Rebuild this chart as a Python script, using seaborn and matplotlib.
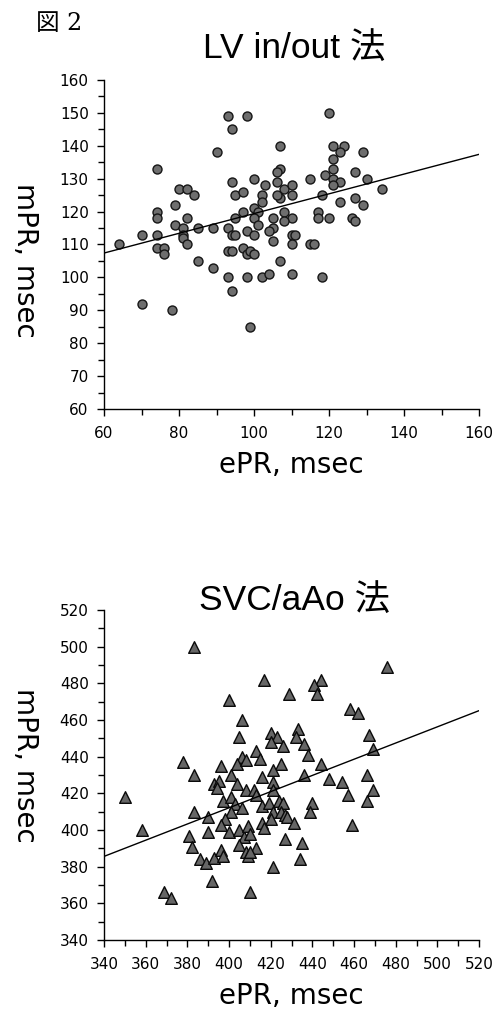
import matplotlib
matplotlib.use("Agg")
import matplotlib.pyplot as plt
from matplotlib.ticker import MultipleLocator
import seaborn as sns
import pandas as pd

# ---------------- data ----------------
top_epr = [93, 98, 94, 90, 74, 94, 80, 82, 84, 95, 97, 79, 74, 74, 97, 95, 82, 79, 81, 85,
           89, 93, 94, 95, 98, 81, 81, 82, 70, 74, 64, 74, 76, 76, 93, 94, 97, 98, 85, 89,
           93, 98, 94, 70, 78, 99,
           120, 107, 121, 124, 123, 129, 121, 107, 106, 121, 100, 106, 103, 115, 119, 121, 123, 121, 127, 130,
           108, 110, 107, 106, 110, 102, 102, 118, 134, 127, 129, 123, 108, 100, 101, 100, 101, 105, 110, 108,
           117, 117, 120, 126, 127, 100, 105, 104, 105, 110, 111, 110, 115, 116, 99, 100, 107, 102, 104, 110, 118]
top_mpr = [149, 149, 145, 138, 133, 129, 127, 127, 125, 125, 126, 122, 120, 118, 120, 118, 118, 116, 115, 115,
           115, 115, 113, 113, 114, 113, 112, 110, 113, 113, 110, 109, 109, 107, 108, 108, 109, 107, 105, 103,
           100, 100, 96, 92, 90, 85,
           150, 140, 140, 140, 138, 138, 136, 133, 132, 133, 130, 129, 128, 130, 131, 130, 129, 128, 132, 130,
           127, 128, 124, 125, 125, 125, 123, 125, 127, 124, 122, 123, 120, 121, 120, 118, 116, 118, 118, 117,
           120, 118, 118, 118, 117, 113, 115, 114, 111, 113, 113, 110, 110, 110, 108, 107, 105, 100, 101, 101, 100]

bot_epr = [383, 400, 406, 405, 406, 404, 378, 383, 396, 401, 393, 395, 394, 404, 408, 350, 397, 401, 403, 406,
           401, 383, 390, 398, 396, 358, 381, 382, 390, 400, 405, 407, 405, 386, 389, 393, 396, 397, 408, 409,
           392, 369, 372, 410,
           476, 417, 444, 441, 442, 429, 458, 462, 433, 432, 420, 423, 420, 426, 467, 436, 438, 469, 413, 415,
           408, 425, 444, 421, 416, 436, 448, 454, 466, 469, 421, 421, 412, 413, 457, 466, 416, 419, 421, 420,
           424, 426, 425, 427, 428, 431, 440, 439, 459, 409, 410, 416, 417, 413, 410, 427, 435, 434, 421]
bot_mpr = [500, 471, 460, 451, 440, 436, 437, 430, 435, 430, 425, 427, 423, 425, 422, 418, 416, 418, 414, 412,
           410, 410, 407, 406, 403, 400, 397, 391, 399, 399, 400, 396, 392, 384, 382, 385, 389, 386, 388, 386,
           372, 366, 363, 366,
           489, 482, 482, 479, 474, 474, 466, 464, 455, 451, 453, 451, 448, 446, 452, 447, 441, 444, 443, 439,
           438, 436, 436, 433, 429, 430, 428, 426, 430, 422, 426, 422, 422, 419, 419, 416, 413, 415, 410, 406,
           416, 415, 410, 408, 407, 404, 415, 410, 403, 402, 398, 404, 401, 390, 388, 395, 393, 384, 380]

top_line_x = [60, 160]
top_line_y = [107.4, 137.4]
bot_line_x = [340, 520]
bot_line_y = [385.6, 465.1]

titles = ["LV in/out 法", "SVC/aAo 法"]
x_label = "ePR, msec"
y_label = "mPR, msec"
fig_label = "図 2"

# ---------------- style ----------------
sns.set_theme(style="ticks")
plt.rcParams["font.family"] = ["DejaVu Sans", "Noto Sans CJK JP"]
plt.rcParams["axes.linewidth"] = 1.0

fig = plt.figure(figsize=(4.98, 10.10), dpi=100)
fig.patch.set_facecolor("white")

W, H = 498, 1010
def axrect(l, r, t, b):
    return [l / W, 1 - b / H, (r - l) / W, (b - t) / H]

ax1 = fig.add_axes(axrect(104, 479, 80, 409))
ax2 = fig.add_axes(axrect(104, 479, 610, 940))

df1 = pd.DataFrame({"ePR": top_epr, "mPR": top_mpr})
df2 = pd.DataFrame({"ePR": bot_epr, "mPR": bot_mpr})

sns.scatterplot(data=df1, x="ePR", y="mPR", ax=ax1, marker="o", s=42,
                color="#6e6e6e", edgecolor="#151515", linewidth=1.0, zorder=3)
sns.lineplot(x=top_line_x, y=top_line_y, ax=ax1, color="black", linewidth=1.0, zorder=4)

sns.scatterplot(data=df2, x="ePR", y="mPR", ax=ax2, marker="^", s=70,
                color="#666666", edgecolor="#0a0a0a", linewidth=1.0, zorder=3)
sns.lineplot(x=bot_line_x, y=bot_line_y, ax=ax2, color="black", linewidth=1.0, zorder=4)

cfg = [
    (ax1, (60, 160), (60, 160), 20, 10, 10, 5, titles[0], 1.097, 0.453),
    (ax2, (340, 520), (340, 520), 20, 10, 20, 10, titles[1], 1.03, 0.53),
]
for ax, xl, yl, xmaj, xmin, ymaj, ymin, title, ty, yly in cfg:
    ax.set_xlim(*xl)
    ax.set_ylim(*yl)
    ax.xaxis.set_major_locator(MultipleLocator(xmaj))
    ax.xaxis.set_minor_locator(MultipleLocator(xmin))
    ax.yaxis.set_major_locator(MultipleLocator(ymaj))
    ax.yaxis.set_minor_locator(MultipleLocator(ymin))
    sns.despine(ax=ax)
    ax.tick_params(which="major", length=5, width=1, direction="out",
                   labelsize=11, colors="black")
    ax.tick_params(which="minor", length=4, width=1, direction="out", colors="black")
    ax.tick_params(axis="x", which="major", pad=7)
    ax.tick_params(axis="y", which="major", pad=6)
    for s in ax.spines.values():
        s.set_color("black")
    ax.set_xlabel(x_label, fontsize=20, color="black")
    ax.set_ylabel(y_label, fontsize=20, color="black", rotation=270)
    ax.xaxis.label.set_va("center")
    ax.yaxis.label.set_va("center")
    ax.yaxis.label.set_ha("center")
    ax.xaxis.set_label_coords(0.50, -0.17)
    ax.yaxis.set_label_coords(-0.21, yly)
    ax.text(0.507, ty, title, transform=ax.transAxes, ha="center", va="center",
            fontsize=25.5, family=["Liberation Sans", "Noto Sans CJK JP"], color="black")
    ax.set_facecolor("white")

fig.text(36 / W, 1 - 23 / H, fig_label, ha="left", va="center", fontsize=17,
         family=["DejaVu Serif", "Noto Sans CJK JP"], color="black")

fig.savefig("out.png", dpi=100, facecolor="white")
